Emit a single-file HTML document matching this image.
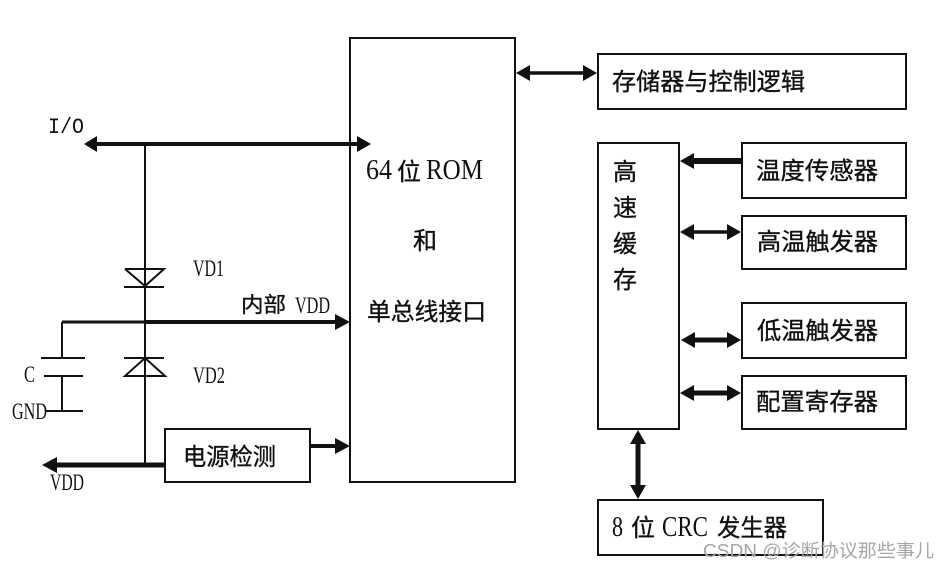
<!DOCTYPE html>
<html><head><meta charset="utf-8">
<style>
html,body{margin:0;padding:0;background:#fff;width:950px;height:571px;overflow:hidden}
svg{display:block}
text{font-family:"Liberation Serif","Noto Serif CJK SC",serif;fill:#111}
.c{font-family:"Liberation Sans","WenQuanYi Zen Hei","Noto Sans CJK SC",sans-serif;font-size:24px;stroke:#111;stroke-width:.35px}
.l{font-family:"Liberation Serif",serif;font-size:23px}
.b{font-family:"Liberation Serif",serif;font-size:28px}
</style></head><body>
<svg width="950" height="571" viewBox="0 0 950 571" xmlns="http://www.w3.org/2000/svg">
<g fill="#fff" stroke="#111" stroke-width="2">
<rect x="350" y="38" width="165" height="444"/>
<rect x="598" y="54" width="308" height="55"/>
<rect x="598" y="143" width="81" height="286"/>
<rect x="742" y="143" width="164" height="55"/>
<rect x="742" y="216" width="164" height="53"/>
<rect x="742" y="303" width="164" height="55"/>
<rect x="742" y="376" width="164" height="53"/>
<rect x="598" y="500" width="225" height="55"/>
<rect x="165" y="429" width="145" height="53"/>
</g>
<g stroke="#111" fill="none">
<path stroke-width="4" d="M90 144H362"/>
<path stroke-width="2" d="M145 144V465"/>
<path stroke-width="2" d="M125 269H164L145 286L125 269M124 287H164"/>
<path stroke-width="2" d="M124 358H164M145 358L125 376H165L145 358"/>
<path stroke-width="3" d="M62 322H145"/>
<path stroke-width="4" d="M145 322H338"/>
<path stroke-width="2" d="M62 322V358M41 358H85M44 376H83M62 376V411M45 411H83"/>
<path stroke-width="5" d="M52 465H166"/>
<path stroke-width="4" d="M310 446H340"/>
<path stroke-width="3.5" d="M528 73H586"/>
<path stroke-width="6" d="M690 161H742"/>
<path stroke-width="3.5" d="M690 232H732"/>
<path stroke-width="5" d="M690 340H732"/>
<path stroke-width="5" d="M690 393H732"/>
<path stroke-width="5" d="M638 440V490"/>
</g>
<g fill="#111">
<path d="M84 144L97 136V152Z"/>
<path d="M371 144L357 136V152Z"/>
<path d="M350 322L335 314V330Z"/>
<path d="M42 465L57 457V473Z"/>
<path d="M350 446L335 438V454Z"/>
<path d="M516 73L530 65V81Z"/>
<path d="M597 73L583 65V81Z"/>
<path d="M680 161L694 153V169Z"/>
<path d="M680 232L694 224V240Z"/>
<path d="M741 232L727 224V240Z"/>
<path d="M681 340L695 332V348Z"/>
<path d="M741 340L727 332V348Z"/>
<path d="M680 393L694 385V401Z"/>
<path d="M741 393L727 385V401Z"/>
<path d="M638 430L630 444H646Z"/>
<path d="M638 499L630 485H646Z"/>
</g>
<text x="48" y="133" style="font-family:'Liberation Mono',monospace;font-size:22px" textLength="36" lengthAdjust="spacingAndGlyphs">I/O</text>
<text class="l" x="193" y="276" textLength="31" lengthAdjust="spacingAndGlyphs">VD1</text>
<text class="l" x="193" y="383" textLength="32" lengthAdjust="spacingAndGlyphs">VD2</text>
<text class="l" x="24" y="382" textLength="11" lengthAdjust="spacingAndGlyphs">C</text>
<text class="l" x="12" y="419" textLength="35" lengthAdjust="spacingAndGlyphs">GND</text>
<text class="l" x="50" y="490" textLength="34" lengthAdjust="spacingAndGlyphs">VDD</text>
<text class="c" x="241" y="312" style="font-size:21px" textLength="45" lengthAdjust="spacingAndGlyphs">内部</text>
<text class="l" x="295" y="313" textLength="35" lengthAdjust="spacingAndGlyphs">VDD</text>
<text class="b" x="366" y="179" textLength="26" lengthAdjust="spacingAndGlyphs">64</text>
<text class="c" x="397" y="180" textLength="24" lengthAdjust="spacingAndGlyphs">位</text>
<text class="b" x="426" y="179" textLength="57" lengthAdjust="spacingAndGlyphs">ROM</text>
<text class="c" x="413" y="249" textLength="24" lengthAdjust="spacingAndGlyphs">和</text>
<text class="c" x="367" y="320" textLength="119" lengthAdjust="spacingAndGlyphs">单总线接口</text>
<text class="c" x="612" y="90" textLength="193" lengthAdjust="spacingAndGlyphs">存储器与控制逻辑</text>
<text class="c" x="613" y="180" textLength="24">高</text>
<text class="c" x="613" y="216" textLength="24">速</text>
<text class="c" x="613" y="252" textLength="24">缓</text>
<text class="c" x="613" y="288" textLength="24">存</text>
<text class="c" x="756" y="179" textLength="122" lengthAdjust="spacingAndGlyphs">温度传感器</text>
<text class="c" x="757" y="250" textLength="121" lengthAdjust="spacingAndGlyphs">高温触发器</text>
<text class="c" x="757" y="339" textLength="121" lengthAdjust="spacingAndGlyphs">低温触发器</text>
<text class="c" x="756" y="410" textLength="122" lengthAdjust="spacingAndGlyphs">配置寄存器</text>
<text class="c" x="183" y="465" textLength="93" lengthAdjust="spacingAndGlyphs">电源检测</text>
<text class="b" x="612" y="536" textLength="11" lengthAdjust="spacingAndGlyphs">8</text>
<text class="c" x="631" y="536" textLength="24" lengthAdjust="spacingAndGlyphs">位</text>
<text class="b" x="662" y="536" textLength="46" lengthAdjust="spacingAndGlyphs">CRC</text>
<text class="c" x="717" y="536" textLength="70" lengthAdjust="spacingAndGlyphs">发生器</text>
<text x="703" y="557" style="font-family:'Liberation Sans','Noto Sans CJK SC',sans-serif;font-size:18px;fill:#a6a6a6" textLength="231" lengthAdjust="spacingAndGlyphs">CSDN @诊断协议那些事儿</text>
</svg>
</body></html>
